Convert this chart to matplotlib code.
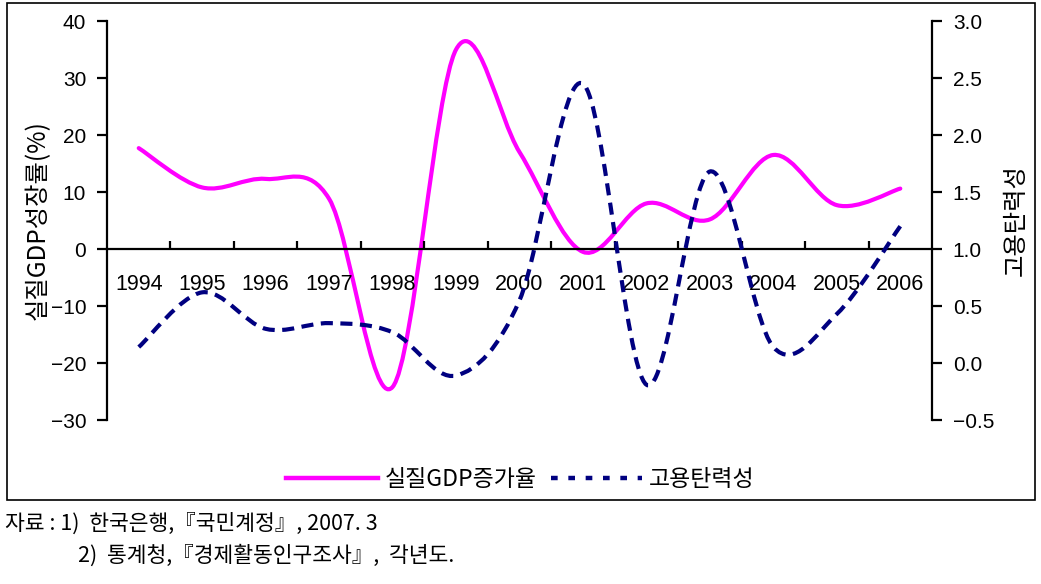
import numpy as np
import matplotlib.pyplot as plt
from matplotlib.path import Path
from matplotlib.patches import PathPatch, Rectangle
from matplotlib.lines import Line2D

plt.rcParams['font.family'] = ['Liberation Sans', 'Noto Sans CJK KR', 'DejaVu Sans']
plt.rcParams['axes.unicode_minus'] = True

years = ['1994', '1995', '1996', '1997', '1998', '1999', '2000',
         '2001', '2002', '2003', '2004', '2005', '2006']
gdp_growth = [17.7, 10.8, 12.3, 8.8, -24.2, 35.0, 17.0,
              -0.5, 8.0, 5.2, 16.5, 7.7, 10.6]
emp_elasticity = [0.14, 0.62, 0.30, 0.35, 0.27, -0.11, 0.55,
                  2.45, -0.19, 1.68, 0.14, 0.43, 1.2]

left_ticks = [-30, -20, -10, 0, 10, 20, 30, 40]
right_ticks = [-0.5, 0.0, 0.5, 1.0, 1.5, 2.0, 2.5, 3.0]

KR = ['Noto Sans CJK KR', 'DejaVu Sans']


def smooth_path(xs, ys):
    # excel style smoothed line: cubic bezier through every point
    pts = np.column_stack([xs, ys]).astype(float)
    n = len(pts)
    verts = [pts[0]]
    codes = [Path.MOVETO]
    for i in range(n - 1):
        prev = pts[i - 1] if i > 0 else pts[i]
        nxt = pts[i + 2] if i + 2 < n else pts[i + 1]
        c1 = pts[i] + (pts[i + 1] - prev) / 6
        c2 = pts[i + 1] - (nxt - pts[i]) / 6
        verts += [c1, c2, pts[i + 1]]
        codes += [Path.CURVE4] * 3
    return Path(verts, codes)


fig = plt.figure(figsize=(10.41, 5.84), dpi=100)
ax = fig.add_axes([0.1028, 0.2808, 0.7925, 0.6832])
ax2 = ax.twinx()

x = np.arange(len(years))
ax.add_patch(PathPatch(smooth_path(x, gdp_growth), fill=False, edgecolor='#FF00FF',
                       lw=3, capstyle='round', joinstyle='round'))
ax2.add_patch(PathPatch(smooth_path(x, emp_elasticity), fill=False, edgecolor='#000080',
                        lw=3, linestyle=(0, (2.9, 1.8)), capstyle='butt'))

ax.set_xlim(-0.5, len(years) - 0.5)
ax.set_ylim(-30, 40)
ax2.set_ylim(-0.5, 3.0)

ax.set_yticks(left_ticks)
ax.set_yticklabels([str(v).replace('-', '\u2212') for v in left_ticks])
ax2.set_yticks(right_ticks)
ax2.set_yticklabels([('%.1f' % v).replace('-', '\u2212') for v in right_ticks])

ax.spines['bottom'].set_position(('data', 0))
ax.spines['top'].set_visible(False)
ax.spines['right'].set_visible(False)
for s in ['top', 'bottom', 'left']:
    ax2.spines[s].set_visible(False)
for s in ['bottom', 'left']:
    ax.spines[s].set_linewidth(1.6)
ax2.spines['right'].set_linewidth(1.6)

ax.set_xticks(np.arange(0.5, len(years) - 1, 1))
ax.tick_params(axis='x', direction='in', length=6, width=1.6, labelbottom=False)
ax.tick_params(axis='y', direction='out', length=7, width=1.6, labelsize=15, pad=8)
ax2.tick_params(axis='y', direction='out', length=7, width=1.6, labelsize=15, pad=8)

for i, yr in enumerate(years):
    ax.text(i, -6.2, yr, ha='center', va='center', fontsize=15.5)

ax.set_ylabel('실질GDP성장률(%)', fontsize=17.5, labelpad=0, family=KR)
ax2.set_ylabel('고용탄력성', fontsize=17.5, rotation=90, labelpad=6, family=KR)

handles = [Line2D([], [], color='#FF00FF', lw=3.2),
           Line2D([], [], color='#000080', lw=3.2, linestyle=(0, (1.5, 2.4)))]
fig.legend(handles, ['실질GDP증가율', '고용탄력성'], loc='center',
           bbox_to_anchor=(0.5, 1 - 480 / 584), ncol=2, frameon=False,
           prop={'family': KR, 'size': 16.5}, handlelength=4.0,
           columnspacing=0.6, handletextpad=0.3)

fig.patches.append(Rectangle((7 / 1041, 1 - 500 / 584), 1028 / 1041, 497 / 584,
                             transform=fig.transFigure, fill=False, lw=1.2,
                             edgecolor='black'))

fig.text(5 / 1041, 1 - 524 / 584, '자료 : 1)  한국은행,『국민계정』, 2007. 3',
         fontsize=15.5, va='center', ha='left', family=KR)
fig.text(78 / 1041, 1 - 556 / 584, '2)  통계청,『경제활동인구조사』,  각년도.',
         fontsize=15.5, va='center', ha='left', family=KR)

fig.savefig('out.png', dpi=100)
